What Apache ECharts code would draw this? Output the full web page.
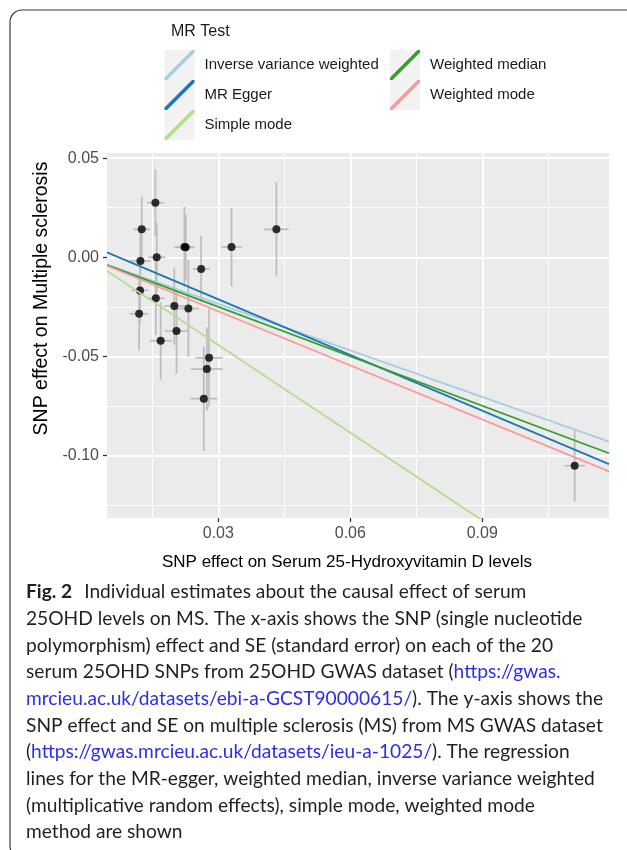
<!DOCTYPE html>
<html><head><meta charset="utf-8">
<script src="https://cdn.jsdelivr.net/npm/echarts@6/dist/echarts.min.js"></script>
<style>html,body{margin:0;padding:0;background:#fff;}#c{width:627px;height:850px;}</style>
</head><body><div id="c"></div>
<script>
// ---- data ----
const methods = ['Inverse variance weighted', 'MR Egger', 'Simple mode', 'Weighted median', 'Weighted mode'];
const methodColors = ['#A6CEE3', '#1F78B4', '#B2DF8A', '#33A02C', '#FB9A99'];
const intercepts = [0, 0.0069, 0, 0, 0];
const slopes = [-0.783, -0.936, -1.475, -0.832, -0.909];

const snpExposure = [0.0126, 0.0157, 0.0123, 0.0160, 0.0223, 0.0226, 0.0261, 0.0330, 0.0432, 0.0122,
                     0.0158, 0.0120, 0.0200, 0.0232, 0.0205, 0.0169, 0.0279, 0.0274, 0.0267, 0.1110];
const snpOutcome  = [0.0141, 0.0275, -0.0019, 0.0000, 0.0052, 0.0050, -0.0059, 0.0052, 0.0141, -0.0167,
                     -0.0207, -0.0285, -0.0246, -0.0258, -0.0372, -0.0421, -0.0507, -0.0564, -0.0713, -0.1051];
const seExposure  = [0.0019, 0.0019, 0.0023, 0.0020, 0.0022, 0.0020, 0.0019, 0.0023, 0.0028, 0.0019,
                     0.0020, 0.0021, 0.0024, 0.0025, 0.0026, 0.0025, 0.0031, 0.0036, 0.0030, 0.0023];
const seOutcome   = [0.0164, 0.0168, 0.0160, 0.0175, 0.0202, 0.0165, 0.0167, 0.0198, 0.0237, 0.0170,
                     0.0185, 0.0185, 0.0195, 0.0245, 0.0215, 0.0195, 0.0247, 0.0210, 0.0262, 0.0181];

const xRange = [0.0047, 0.1188];
const yRange = [-0.1315, 0.0526];
const xMajorTicks = [0.03, 0.06, 0.09];
const xMinorTicks = [0.015, 0.045, 0.075, 0.105];
const yMajorTicks = [-0.10, -0.05, 0.00, 0.05];
const yMinorTicks = [-0.125, -0.075, -0.025, 0.025];

const xTitle = 'SNP effect on Serum 25-Hydroxyvitamin D levels';
const yTitle = 'SNP effect on Multiple sclerosis';
const legendTitle = 'MR Test';

const captionLines = [
  '{b|Fig. 2}Individual estimates about the causal effect of serum',
  '25OHD levels on MS. The x-axis shows the SNP (single nucleotide',
  'polymorphism) effect and SE (standard error) on each of the 20',
  'serum 25OHD SNPs from 25OHD GWAS dataset ({l|https://gwas.}',
  '{l|mrcieu.ac.uk/datasets/ebi-a-GCST90000615/}). The y-axis shows the',
  'SNP effect and SE on multiple sclerosis (MS) from MS GWAS dataset',
  '({l|https://gwas.mrcieu.ac.uk/datasets/ieu-a-1025/}). The regression',
  'lines for the MR-egger, weighted median, inverse variance weighted',
  '(multiplicative random effects), simple mode, weighted mode',
  'method are shown'
];

// ---- layout ----
const capFamily = 'Lato, "Open Sans", sans-serif';
function plain(t) { return t.replace(/\{[a-z]+\|([^}]*)\}/g, '$1'); }
function fitSize(lines, family, target, base) {
  const ctx = document.createElement('canvas').getContext('2d');
  ctx.font = base + 'px ' + family;
  let w = 0;
  lines.forEach(t => { w += ctx.measureText(plain(t)).width; });
  return base * target / w;
}
// total measured width of the reference caption lines (px)
const capSize = Math.min(20, fitSize(captionLines, 'Lato', 5053 - 12, 20));

const chart = echarts.init(document.getElementById('c'), null, {renderer: 'canvas'});

const lineSeries = methods.map((m, i) => ({
  name: m,
  type: 'line',
  showSymbol: false,
  symbol: 'none',
  silent: true,
  z: 5,
  clip: true,
  lineStyle: {color: methodColors[i], width: 1.8},
  itemStyle: {color: methodColors[i]},
  data: xRange.map(x => [x, intercepts[i] + slopes[i] * x])
}));

const keyPath = 'path://M0,30L2.5,30L30,2.5L30,0L27.5,0L0,27.5Z';
const legendText = {fontSize: 15, color: '#1a1a1a', fontFamily: '"Liberation Sans", Arial, sans-serif', padding: [0, 0, 0, 5]};

const graphics = [
  {type: 'rect', shape: {x: 10, y: 10, width: 720, height: 848, r: 12}, style: {fill: 'none', stroke: '#3a3a3a', lineWidth: 1.2}, z: 0, silent: true},
  {type: 'rect', shape: {x: 164.5, y: 50, width: 30, height: 30}, style: {fill: '#F2F2F2'}, z: 0},
  {type: 'rect', shape: {x: 164.5, y: 80, width: 30, height: 30}, style: {fill: '#F2F2F2'}, z: 0},
  {type: 'rect', shape: {x: 164.5, y: 110, width: 30, height: 30}, style: {fill: '#F2F2F2'}, z: 0},
  {type: 'rect', shape: {x: 390, y: 50, width: 30, height: 30}, style: {fill: '#F2F2F2'}, z: 0},
  {type: 'rect', shape: {x: 390, y: 80, width: 30, height: 30}, style: {fill: '#F2F2F2'}, z: 0}
];
captionLines.forEach((t, i) => {
  graphics.push({
    type: 'text', z: 10, silent: true,
    style: {
      text: t, x: 26, y: 592 + i * 26.7, verticalAlign: 'middle',
      fontSize: capSize, fontFamily: capFamily, fill: '#231F20',
      rich: {
        b: {fontWeight: 'bold', fontSize: capSize, fontFamily: capFamily, fill: '#231F20', padding: [0, 12, 0, 0]},
        l: {fontSize: capSize, fontFamily: capFamily, fill: '#2E2EE6'}
      }
    }
  });
});

const axisLabelStyle = {color: '#4D4D4D', fontSize: 16, fontFamily: '"Liberation Sans", Arial, sans-serif'};

const option = {
  animation: false,
  backgroundColor: '#ffffff',
  title: {text: legendTitle, left: 171, top: 24, padding: 0,
          textStyle: {fontSize: 16, fontWeight: 'normal', color: '#1a1a1a', fontFamily: '"Liberation Sans", Arial, sans-serif'}},
  legend: [
    {data: methods.slice(0, 3), orient: 'vertical', left: 164.5, top: 50, padding: 0, itemGap: 0,
     itemWidth: 30, itemHeight: 30, icon: keyPath, selectedMode: false, textStyle: legendText},
    {data: methods.slice(3), orient: 'vertical', left: 390, top: 50, padding: 0, itemGap: 0,
     itemWidth: 30, itemHeight: 30, icon: keyPath, selectedMode: false, textStyle: legendText}
  ],
  grid: {left: 107, top: 153, width: 502, height: 365, show: true, backgroundColor: '#EBEBEB', borderWidth: 0, containLabel: false},
  xAxis: [
    {type: 'value', min: xRange[0], max: xRange[1], gridIndex: 0, position: 'bottom',
     name: xTitle, nameLocation: 'middle', nameGap: 36,
     nameTextStyle: {fontSize: 17, color: '#000', fontFamily: '"Liberation Sans", Arial, sans-serif', padding: [0, 22, 0, 0]},
     axisLine: {show: false, onZero: false},
     axisTick: {show: true, length: 4, lineStyle: {color: '#333', width: 1.3}, customValues: xMajorTicks},
     axisLabel: {customValues: xMajorTicks, formatter: v => v.toFixed(2), margin: 8, ...axisLabelStyle},
     splitLine: {show: true, lineStyle: {color: '#FFFFFF', width: 1.8}}},
    {type: 'value', min: xRange[0], max: xRange[1], gridIndex: 0, position: 'bottom',
     axisLine: {show: false, onZero: false}, axisLabel: {show: false},
     axisTick: {show: false, customValues: xMinorTicks},
     splitLine: {show: true, lineStyle: {color: '#FFFFFF', width: 0.9}}}
  ],
  yAxis: [
    {type: 'value', min: yRange[0], max: yRange[1], gridIndex: 0, position: 'left',
     name: yTitle, nameLocation: 'middle', nameGap: 53,
     nameTextStyle: {fontSize: 19.5, color: '#000', fontFamily: '"Liberation Sans", Arial, sans-serif', padding: [0, 0, 0, 74]},
     axisLine: {show: false, onZero: false},
     axisTick: {show: true, length: 4, lineStyle: {color: '#333', width: 1.3}, customValues: yMajorTicks},
     axisLabel: {customValues: yMajorTicks, formatter: v => v.toFixed(2), margin: 8, ...axisLabelStyle},
     splitLine: {show: true, lineStyle: {color: '#FFFFFF', width: 1.8}}},
    {type: 'value', min: yRange[0], max: yRange[1], gridIndex: 0, position: 'left',
     axisLine: {show: false, onZero: false}, axisLabel: {show: false},
     axisTick: {show: false, customValues: yMinorTicks},
     splitLine: {show: true, lineStyle: {color: '#FFFFFF', width: 0.9}}}
  ],
  series: [
    {type: 'custom', name: 'errorbars', z: 2, silent: true,
     renderItem: (params, api) => {
       const x = api.value(0), y = api.value(1), sx = api.value(2), sy = api.value(3);
       const a = api.coord([x, y - sy]), b = api.coord([x, y + sy]);
       const c = api.coord([x - sx, y]), d = api.coord([x + sx, y]);
       const st = {stroke: '#BEBEBE', lineWidth: 1.8};
       return {type: 'group', children: [
         {type: 'line', shape: {x1: a[0], y1: a[1], x2: b[0], y2: b[1]}, style: st},
         {type: 'line', shape: {x1: c[0], y1: c[1], x2: d[0], y2: d[1]}, style: st}
       ]};
     },
     encode: {x: 0, y: 1},
     data: snpExposure.map((v, i) => [v, snpOutcome[i], seExposure[i], seOutcome[i]])},
    {type: 'scatter', name: 'SNPs', z: 3, symbol: 'circle', symbolSize: 8, silent: true,
     itemStyle: {color: '#000000'},
     data: snpExposure.map((v, i) => [v, snpOutcome[i]])},
    ...lineSeries
  ],
  graphic: graphics
};
chart.setOption(option);
</script>
</body></html>
